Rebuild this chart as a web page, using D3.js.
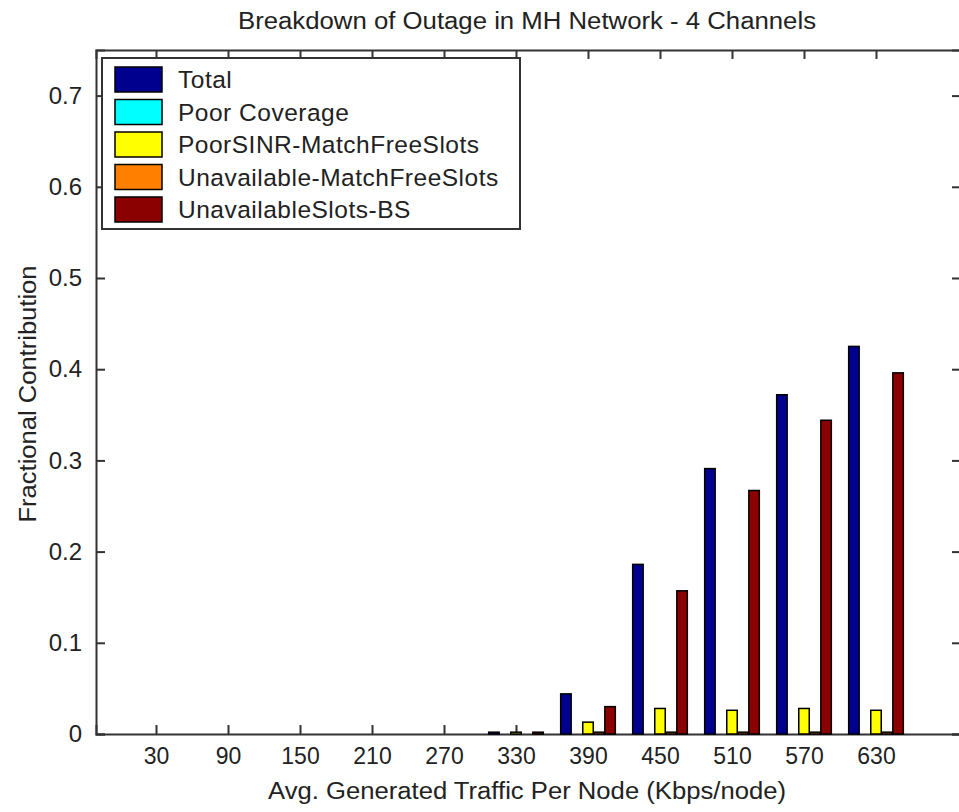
<!DOCTYPE html>
<html>
<head>
<meta charset="utf-8">
<script src="https://cdn.jsdelivr.net/npm/d3@7"></script>
<style>
  body { margin: 0; background: #fff; }
  svg { display: block; font-family: "Liberation Sans", Arial, sans-serif; }
</style>
</head>
<body>
<svg id="chart" width="959" height="812"></svg>
<script>
// data
const traffic = [30, 90, 150, 210, 270, 330, 390, 450, 510, 570, 630];
const seriesNames = ['Total', 'Poor Coverage', 'PoorSINR-MatchFreeSlots', 'Unavailable-MatchFreeSlots', 'UnavailableSlots-BS'];
const seriesColors = ['#00008f', '#00ffff', '#ffff00', '#ff8000', '#8b0000'];
const total        = [0, 0, 0, 0, 0, 0.002, 0.044, 0.186, 0.291, 0.372, 0.425];
const poorCoverage = [0, 0, 0, 0, 0, 0, 0, 0, 0, 0, 0];
const poorSinr     = [0, 0, 0, 0, 0, 0.002, 0.013, 0.028, 0.026, 0.028, 0.026];
const unavailMatch = [0, 0, 0, 0, 0, 0, 0.002, 0.002, 0.002, 0.002, 0.002];
const unavailBS    = [0, 0, 0, 0, 0, 0.002, 0.030, 0.157, 0.267, 0.344, 0.396];
const yTicks = [0, 0.1, 0.2, 0.3, 0.4, 0.5, 0.6, 0.7];

const series = [total, poorCoverage, poorSinr, unavailMatch, unavailBS];

const svg = d3.select('#chart');
const axL = 96, axR = 960, axT = 50, axB = 734;

const x = d3.scaleLinear().domain([-20, 700]).range([axL, axR]);
const y = d3.scaleLinear().domain([0, 0.75]).range([axB, axT]);

//axes box with inner ticks (drawn first, bars cover the ticks)
const axisCol = '#333';
const xb = d3.axisBottom(x).tickValues(traffic).tickSize(-9).tickPadding(14);
const xt = d3.axisTop(x).tickValues(traffic).tickSize(-9).tickFormat('');
const yl = d3.axisLeft(y).tickValues(yTicks).tickSize(-9).tickPadding(14).tickFormat(d => d === 0 ? '0' : d3.format('.1f')(d));
const yr = d3.axisRight(y).tickValues(yTicks).tickSize(-8).tickFormat('');

const gx = svg.append('g').attr('transform', `translate(0,${axB})`).call(xb);
svg.append('g').attr('transform', `translate(0,${axT})`).call(xt);
const gy = svg.append('g').attr('transform', `translate(${axL},0)`).call(yl);
svg.append('g').attr('transform', `translate(${axR},0)`).call(yr);

svg.selectAll('.domain').attr('stroke', axisCol).attr('stroke-width', 2);
svg.selectAll('.tick line').attr('stroke', axisCol).attr('stroke-width', 2);
svg.selectAll('.tick text').attr('fill', '#222').attr('font-family', '"Liberation Sans", Arial, sans-serif');
gx.selectAll('.tick text').attr('font-size', 23);
gy.selectAll('.tick text').attr('font-size', 24);

//bars, grouped like matlab bar()
const slot = 9.2;
const barW = x(slot * 0.95) - x(0);
const bars = svg.append('g');
series.forEach((vals, s) => {
    bars.selectAll(null)
        .data(vals.map((v, i) => ({ t: traffic[i], v: v })))
        .join('rect')
        .attr('x', d => x(d.t + (s - 2) * slot) - barW / 2)
        .attr('y', d => y(d.v))
        .attr('width', barW)
        .attr('height', d => y(0) - y(d.v))
        .attr('fill', seriesColors[s])
        .attr('stroke', d => d.v > 0 ? '#000' : 'none')
        .attr('stroke-width', 1.5);
});

//titles
svg.append('text')
    .attr('x', 527).attr('y', 29)
    .attr('text-anchor', 'middle')
    .attr('font-size', 23)
    .attr('fill', '#222')
    .attr('textLength', 578).attr('lengthAdjust', 'spacingAndGlyphs')
    .text('Breakdown of Outage in MH Network - 4 Channels');

svg.append('text')
    .attr('x', 527).attr('y', 799)
    .attr('text-anchor', 'middle')
    .attr('font-size', 23)
    .attr('fill', '#222')
    .attr('textLength', 518).attr('lengthAdjust', 'spacingAndGlyphs')
    .text('Avg. Generated Traffic Per Node (Kbps/node)');

svg.append('text')
    .attr('transform', 'translate(36,394) rotate(-90)')
    .attr('text-anchor', 'middle')
    .attr('font-size', 23)
    .attr('fill', '#222')
    .attr('textLength', 257).attr('lengthAdjust', 'spacingAndGlyphs')
    .text('Fractional Contribution');

//legend
const lg = svg.append('g');
lg.append('rect')
    .attr('x', 102).attr('y', 58).attr('width', 418).attr('height', 171)
    .attr('fill', '#fff').attr('stroke', axisCol).attr('stroke-width', 2);
const rows = lg.selectAll('g.row')
    .data(seriesNames)
    .join('g')
    .attr('class', 'row')
    .attr('transform', (d, i) => `translate(0,${67 + i * 32.5})`);
rows.append('rect')
    .attr('x', 115).attr('y', 0).attr('width', 47).attr('height', 25)
    .attr('fill', (d, i) => seriesColors[i])
    .attr('stroke', '#000').attr('stroke-width', 1.5);
rows.append('text')
    .attr('x', 178).attr('y', 21)
    .attr('font-size', 24.5)
    .attr('letter-spacing', 0.5)
    .attr('fill', '#222')
    .text(d => d);
</script>
</body>
</html>
